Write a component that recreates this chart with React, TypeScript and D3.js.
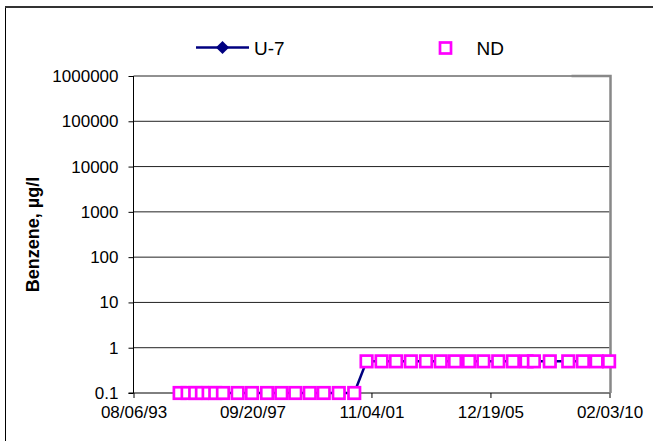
import React, { useEffect, useRef } from "react";
import * as d3 from "d3";

// sample dates (U-7 well) and benzene results, ug/l
const sampleDates = [
  "1995-03-13", "1995-06-22", "1995-09-26", "1995-12-20", "1996-03-14", "1996-06-06",
  "1996-09-11", "1997-03-16", "1997-09-14", "1998-03-23", "1998-09-20", "1999-03-16",
  "1999-09-15", "2000-03-10", "2000-09-16", "2001-03-31",
  "2001-09-03", "2002-03-12", "2002-09-11", "2003-03-17", "2003-09-25", "2004-03-30",
  "2004-09-27", "2005-03-23", "2005-09-20", "2006-03-28", "2006-09-29", "2007-03-21",
  "2007-06-22", "2008-01-09", "2008-08-30", "2009-03-03", "2009-08-24", "2010-01-29",
];
const u7Values = [
  0.1, 0.1, 0.1, 0.1, 0.1, 0.1, 0.1, 0.1, 0.1, 0.1, 0.1, 0.1, 0.1, 0.1, 0.1, 0.1,
  0.5, 0.5, 0.5, 0.5, 0.5, 0.5, 0.5, 0.5, 0.5, 0.5, 0.5, 0.5, 0.5, 0.5, 0.5, 0.5, 0.5, 0.5,
];
// non-detects, plotted at the reporting limit
const ndValues = u7Values.slice();

const xTickLabels = ["08/06/93", "09/20/97", "11/04/01", "12/19/05", "02/03/10"];
const yTickValues = [0.1, 1, 10, 100, 1000, 10000, 100000, 1000000];
const seriesNames = ["U-7", "ND"];

const parse = d3.timeParse("%Y-%m-%d");
const parseTick = d3.timeParse("%m/%d/%y");

const App = () => {
  const ref = useRef<SVGSVGElement>(null);

  useEffect(() => {
    const svg = d3.select(ref.current);
    svg.selectAll("*").remove();

    const width = 653;
    const height = 441;
    const margin = { top: 76, left: 133.5, bottom: 48, right: 43.5 };
    const iwidth = width - margin.left - margin.right;
    const iheight = height - margin.top - margin.bottom;
    const font = "'Liberation Sans', Arial, sans-serif";

    const data = sampleDates.map((d, i) => ({ date: parse(d)!, u7: u7Values[i], nd: ndValues[i] }));
    const xTicks = xTickLabels.map((t) => parseTick(t)!);

    // outer chart frame (right / bottom fall outside the picture)
    svg.append("line").attr("x1", 5.5).attr("x2", 5.5).attr("y1", 7).attr("y2", height)
      .attr("stroke", "#000").attr("stroke-width", 1);
    svg.append("line").attr("x1", 5).attr("x2", width).attr("y1", 7).attr("y2", 7)
      .attr("stroke", "#333").attr("stroke-width", 2);

    const g = svg.append("g").attr("transform", `translate(${margin.left},${margin.top})`);

    const x = d3.scaleTime().domain([xTicks[0], xTicks[xTicks.length - 1]]).range([0, iwidth]);
    const y = d3.scaleLog().domain([0.1, 1000000]).range([iheight, 0]);

    // gridlines
    g.selectAll(".grid")
      .data(yTickValues.slice(1))
      .enter()
      .append("line")
      .attr("x1", 0)
      .attr("x2", iwidth)
      .attr("y1", (d) => y(d))
      .attr("y2", (d) => y(d))
      .attr("stroke", "#222")
      .attr("stroke-width", 1);

    // plot area border (right + top corner), grey
    g.append("path")
      .attr("d", `M${iwidth - 38},0 H${iwidth + 1} V${iheight}`)
      .attr("fill", "none")
      .attr("stroke", "#888")
      .attr("stroke-width", 2.5);

    // y axis
    const yAxis = g.append("g").call(
      d3.axisLeft(y).tickValues(yTickValues).tickFormat((d) => String(d)).tickSize(5).tickPadding(10)
    );
    yAxis.select(".domain").attr("stroke", "#000").attr("d", `M0,0V${iheight}`);
    yAxis.selectAll("text").attr("font-family", font).attr("font-size", 17).attr("fill", "#000");

    // x axis
    const xAxis = g.append("g").attr("transform", `translate(0,${iheight})`).call(
      d3.axisBottom(x).tickValues(xTicks).tickFormat((d, i) => xTickLabels[i]).tickSize(5).tickPadding(8)
    );
    xAxis.select(".domain").attr("stroke", "#000").attr("d", `M-5,0H${iwidth}`);
    xAxis.selectAll("text").attr("font-family", font).attr("font-size", 17).attr("fill", "#000");

    // U-7 line
    const line = d3.line<any>().x((d) => x(d.date)).y((d) => y(d.u7));
    g.append("path").datum(data).attr("d", line).attr("fill", "none")
      .attr("stroke", "#000080").attr("stroke-width", 2.5);

    const diamond = d3.symbol().type(d3.symbolDiamond2).size(60);
    g.selectAll(".u7pt").data(data).enter().append("path")
      .attr("d", diamond)
      .attr("transform", (d) => `translate(${x(d.date)},${y(d.u7)})`)
      .attr("fill", "#000080");

    // ND markers
    const s = 11.5;
    g.selectAll(".nd").data(data).enter().append("rect")
      .attr("x", (d) => x(d.date) - s / 2)
      .attr("y", (d) => y(d.nd) - s / 2)
      .attr("width", s)
      .attr("height", s)
      .attr("fill", "#fff")
      .attr("stroke", "#ff00ff")
      .attr("stroke-width", 2.7);

    // y title
    svg.append("text")
      .attr("transform", `translate(39,${margin.top + iheight / 2}) rotate(-90)`)
      .attr("text-anchor", "middle")
      .attr("font-family", font)
      .attr("font-size", 18)
      .attr("font-weight", "bold")
      .text("Benzene, µg/l");

    // legend
    const lg = svg.append("g");
    lg.append("line").attr("x1", 196).attr("x2", 249).attr("y1", 47.5).attr("y2", 47.5)
      .attr("stroke", "#000080").attr("stroke-width", 2.5);
    lg.append("path").attr("d", d3.symbol().type(d3.symbolDiamond2).size(110))
      .attr("transform", "translate(222.5,47.5)").attr("fill", "#000080");
    lg.append("text").attr("x", 254).attr("y", 55).attr("font-family", font).attr("font-size", 19)
      .text(seriesNames[0]);
    lg.append("rect").attr("x", 440).attr("y", 42.5).attr("width", 11).attr("height", 11)
      .attr("fill", "#fff").attr("stroke", "#ff00ff").attr("stroke-width", 2.7);
    lg.append("text").attr("x", 476.5).attr("y", 55).attr("font-family", font).attr("font-size", 19)
      .text(seriesNames[1]);
  }, []);

  return (
    <svg
      ref={ref}
      width={653}
      height={441}
      style={{ position: "absolute", left: 0, top: 0, background: "#fff" }}
    />
  );
};

export default App;
